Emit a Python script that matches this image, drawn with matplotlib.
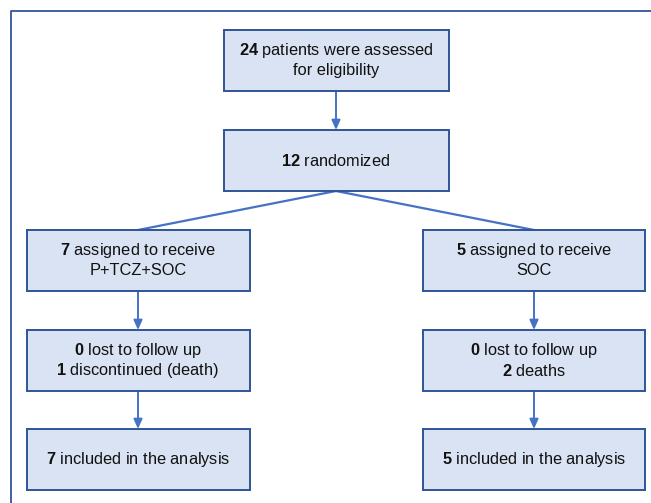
import matplotlib
matplotlib.use("Agg")
import matplotlib.pyplot as plt
from matplotlib.patches import Rectangle, FancyArrowPatch

plt.rcParams['font.family'] = ['Liberation Sans', 'DejaVu Sans']
plt.rcParams['mathtext.fontset'] = 'custom'
plt.rcParams['mathtext.rm'] = 'Liberation Sans'
plt.rcParams['mathtext.bf'] = 'Liberation Sans:bold'

# Data: box counts and labels
box_ids = ["screen", "rand", "armA", "armB", "lostA", "lostB", "anaA", "anaB"]
counts_line1 = ["24", "12", "7", "5", "0", "0", "7", "5"]
labels_line1 = ["patients were assessed", "randomized", "assigned to receive",
                "assigned to receive", "lost to follow up", "lost to follow up",
                "included in the analysis", "included in the analysis"]
counts_line2 = ["", "", "", "", "1", "2", "", ""]
labels_line2 = ["for eligibility", "", "P+TCZ+SOC", "SOC", "discontinued (death)",
                "deaths", "", ""]

# Layout (pixel space)
centers_x = [336, 336, 138, 534, 138, 534, 138, 534]
tops = [30, 130, 230, 230, 330, 330, 429, 429]
widths = [225, 225, 223, 222, 223, 222, 223, 222]
height = 61

W, H = 651, 503
fig = plt.figure(figsize=(W / 100, H / 100), dpi=100)
ax = fig.add_axes([0, 0, 1, 1])
ax.set_xlim(0, W)
ax.set_ylim(H, 0)
ax.axis('off')

fill = '#dae3f3'
edge = '#2f5597'
line_c = '#4472c4'
fs = 11.8

# outer frame
ax.plot([10.5, 10.5, W], [H, 10.5, 10.5], color='#2f5597', lw=1.3, solid_capstyle='butt')

def bold_text(cnt, lab):
    if cnt and lab:
        return r"$\bf{" + cnt + "}$ " + lab
    if cnt:
        return r"$\bf{" + cnt + "}$"
    return lab

for i in range(len(box_ids)):
    cx, t, w = centers_x[i], tops[i], widths[i]
    ax.add_patch(Rectangle((cx - w / 2, t), w, height, facecolor=fill,
                           edgecolor=edge, lw=1.4, zorder=2))
    l1 = bold_text(counts_line1[i], labels_line1[i])
    l2 = bold_text(counts_line2[i], labels_line2[i])
    cy = t + height / 2
    if l2:
        ax.text(cx, cy - 10, l1, ha='center', va='center', fontsize=fs,
                color='#111111', zorder=3)
        ax.text(cx, cy + 10, l2, ha='center', va='center', fontsize=fs,
                color='#111111', zorder=3)
    else:
        ax.text(cx, cy, l1, ha='center', va='center', fontsize=fs,
                color='#111111', zorder=3)

def arrow(x, y0, y1):
    a = FancyArrowPatch((x, y0), (x, y1), arrowstyle='-|>,head_length=3.6,head_width=1.6',
                        color=line_c, lw=1.4, shrinkA=0, shrinkB=0,
                        mutation_scale=1.6, zorder=1)
    ax.add_patch(a)

# vertical arrows
arrow(336, 91, 130)
arrow(138, 291, 330)
arrow(534, 291, 330)
arrow(138, 391, 429)
arrow(534, 391, 429)

# diagonal split lines
ax.plot([336, 138], [191, 230], color=line_c, lw=1.6, zorder=1)
ax.plot([336, 534], [191, 230], color=line_c, lw=1.6, zorder=1)

fig.savefig("out.png", dpi=100)
